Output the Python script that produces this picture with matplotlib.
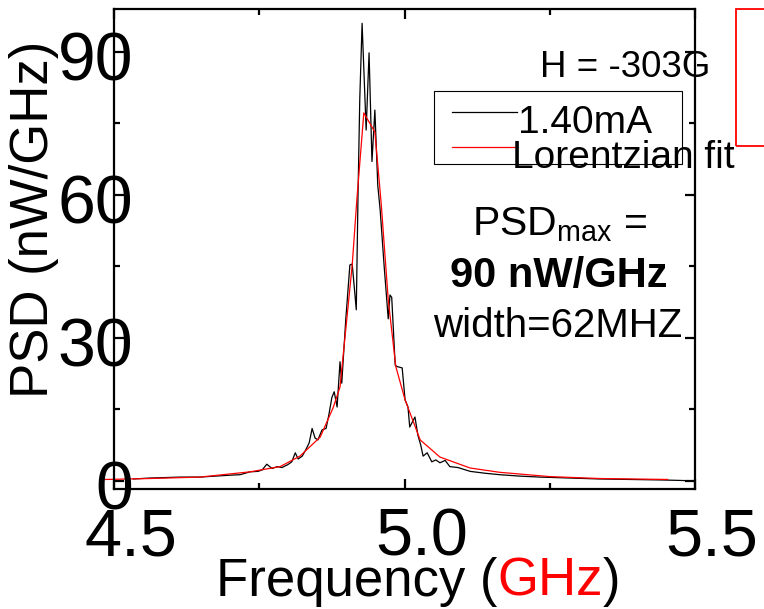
import matplotlib
matplotlib.use("Agg")
import matplotlib.pyplot as plt
import matplotlib.transforms as mtransforms
from matplotlib.patches import Rectangle
from matplotlib.lines import Line2D

plt.rcParams['font.family'] = ['Liberation Sans', 'DejaVu Sans']
plt.rcParams['mathtext.fontset'] = 'custom'
plt.rcParams['mathtext.rm'] = 'Liberation Sans'

# Measured spectrum at I = 1.40 mA (frequency in GHz, PSD in nW/GHz)
freq_data = [4.533, 4.562, 4.614, 4.648, 4.674, 4.700, 4.717, 4.734, 4.748, 4.755,
             4.763, 4.772, 4.781, 4.789, 4.799, 4.806, 4.812, 4.817, 4.824, 4.830,
             4.836, 4.841, 4.846, 4.851, 4.858, 4.865, 4.870, 4.875, 4.879, 4.884,
             4.889, 4.892, 4.899, 4.906, 4.910, 4.917, 4.920, 4.923, 4.927, 4.934,
             4.939, 4.944, 4.949, 4.954, 4.958, 4.965, 4.972, 4.975, 4.978, 4.984,
             4.987, 4.996, 5.001, 5.006, 5.009, 5.018, 5.023, 5.028, 5.032, 5.039,
             5.047, 5.054, 5.061, 5.070, 5.078, 5.092, 5.113, 5.139, 5.164, 5.199,
             5.233, 5.285, 5.336, 5.388, 5.440, 5.474, 5.500]
psd_data = [0.4, 0.6, 0.8, 0.8, 1.0, 1.2, 1.3, 1.9, 2.0, 2.3,
            3.5, 2.6, 3.0, 2.8, 3.4, 4.0, 5.9, 4.6, 5.2, 6.5,
            8.0, 11.0, 9.0, 8.6, 10.7, 11.0, 14.0, 17.5, 18.7, 15.5,
            25.0, 20.5, 34.0, 45.3, 45.5, 35.9, 60.0, 80.0, 96.0, 73.6,
            89.8, 67.0, 77.8, 62.0, 57.0, 45.0, 34.0, 39.0, 38.5, 24.3,
            24.0, 23.7, 17.0, 15.5, 11.3, 13.4, 9.6, 7.5, 5.2, 5.9,
            4.0, 4.4, 3.8, 4.3, 3.0, 2.8, 2.0, 1.6, 1.3, 1.0,
            0.8, 0.6, 0.4, 0.3, 0.2, 0.1, 0.0]

# Lorentzian fit of the spectrum
freq_fit = [4.485, 4.562, 4.648, 4.734, 4.786, 4.820, 4.855, 4.877, 4.889, 4.910,
            4.918, 4.930, 4.949, 4.960, 4.972, 4.985, 5.001, 5.027, 5.061, 5.113,
            5.164, 5.250, 5.336, 5.453]
psd_fit = [0.3, 0.5, 0.8, 1.9, 3.0, 5.2, 9.2, 15.3, 19.7, 45.3,
           59.0, 77.2, 73.2, 58.0, 38.0, 24.0, 17.0, 8.6, 5.0, 2.7,
           1.8, 0.9, 0.5, 0.3]

x_ticks = [4.5, 5.0, 5.5]
x_tick_labels = ["4.5", "5.0", "5.5"]
y_ticks = [0, 30, 60, 90]
y_tick_labels = ["0", "30", "60", "90"]

W, H = 764, 609
DPI = 100
fig = plt.figure(figsize=(W / DPI, H / DPI), dpi=DPI)

def fx(px):
    return px / W

def fy(py):
    return 1 - py / H

ax = fig.add_axes([fx(114), fy(489), fx(695) - fx(114), fy(9) - fy(489)])
ax.plot(freq_data, psd_data, color='black', lw=0.9, clip_on=False)
ax.plot(freq_fit, psd_fit, color='red', lw=0.9, clip_on=False)
ax.set_xlim(4.5, 5.5)
ax.set_ylim(-1.7, 99)

for s in ax.spines.values():
    s.set_linewidth(1.6)

ax.set_xticks(x_ticks)
ax.set_yticks(y_ticks)
ax.set_xticks([4.75, 5.25], minor=True)
ax.set_yticks([15, 45, 75], minor=True)
ax.tick_params(which='both', direction='in', top=True, right=True,
               labelbottom=False, labelleft=False, width=1.6)
ax.tick_params(which='major', length=7)
ax.tick_params(which='minor', length=4)

# Tick labels, offset into the plot area
xt = ax.get_xaxis_transform() + mtransforms.ScaledTranslation(17 / DPI, -19 / DPI, fig.dpi_scale_trans)
for v, lab in zip(x_ticks, x_tick_labels):
    ax.text(v, 0, lab, transform=xt, ha='center', va='top', fontsize=48, clip_on=False)
yt = ax.get_yaxis_transform() + mtransforms.ScaledTranslation(19 / DPI, -11 / DPI, fig.dpi_scale_trans)
for v, lab in zip(y_ticks, y_tick_labels):
    ax.text(0, v, lab, transform=yt, ha='right', va='center', fontsize=49, clip_on=False)

# Axis labels
fig.text(fx(34), fy(219), "PSD (nW/GHz)", rotation=90, ha='center', va='center', fontsize=38)

parts = [("Frequency (", 'black'), ("GHz", 'red'), (")", 'black')]
renderer = fig.canvas.get_renderer()
texts = [fig.text(0, fy(596), s, color=c, fontsize=38, ha='left', va='baseline') for s, c in parts]
widths = [t.get_window_extent(renderer).width for t in texts]
x0 = 418 - sum(widths) / 2
for t, w in zip(texts, widths):
    t.set_x(fx(x0))
    x0 += w

# Annotations
fig.text(fx(540), fy(77), "H = -303G", fontsize=26.5, ha='left', va='baseline')

fig.add_artist(Rectangle((fx(434), fy(164)), fx(682) - fx(434), fy(91) - fy(164),
                         transform=fig.transFigure, fill=False, ec='black', lw=0.8))
fig.add_artist(Line2D([fx(452), fx(517)], [fy(112), fy(112)], transform=fig.transFigure,
                      color='black', lw=0.9))
fig.add_artist(Line2D([fx(452), fx(517)], [fy(147), fy(147)], transform=fig.transFigure,
                      color='red', lw=0.9))
fig.text(fx(518), fy(133), "1.40mA", fontsize=28, ha='left', va='baseline')
fig.text(fx(512), fy(168), "Lorentzian fit", fontsize=28, ha='left', va='baseline')

fig.text(fx(560), fy(235), r"PSD$_{\mathregular{max}}$ =", fontsize=29.5, ha='center', va='baseline')
fig.text(fx(559), fy(287), "90 nW/GHz", fontsize=30, fontweight='bold', ha='center', va='baseline')
fig.text(fx(558), fy(337), "width=62MHZ", fontsize=29, ha='center', va='baseline')

fig.add_artist(Rectangle((fx(736), fy(146)), fx(800) - fx(736), fy(9) - fy(146),
                         transform=fig.transFigure, fill=False, ec='red', lw=1.3))

fig.savefig("out.png", dpi=DPI)
